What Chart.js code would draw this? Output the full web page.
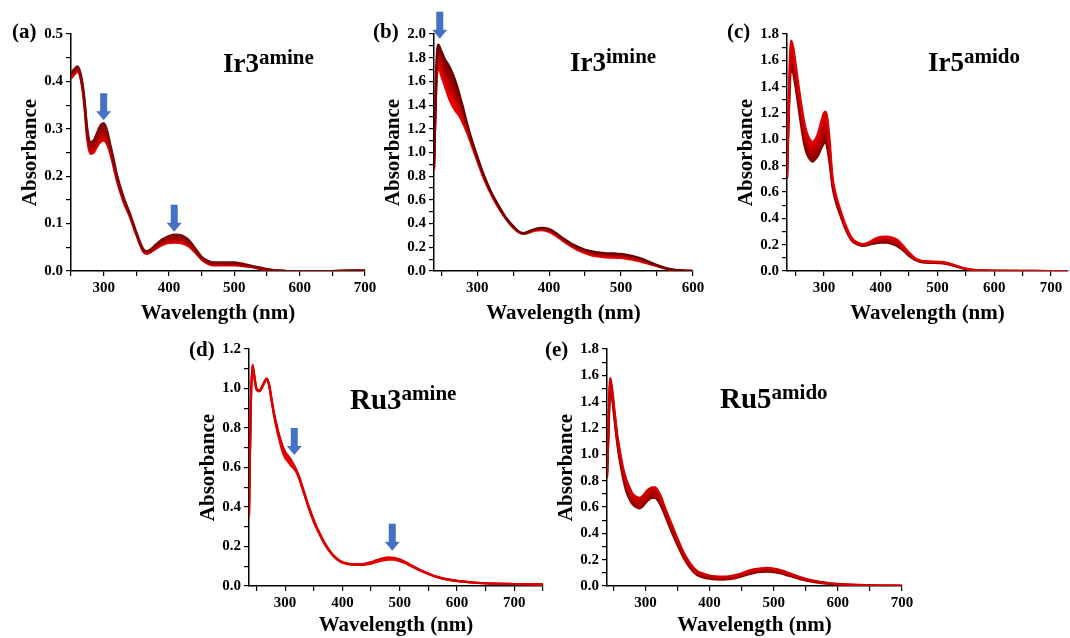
<!DOCTYPE html>
<html><head><meta charset="utf-8">
<script src="https://cdn.jsdelivr.net/npm/chart.js@4.4.1/dist/chart.umd.min.js"></script>
<style>
html,body{margin:0;padding:0;background:#fff;}
body{width:1070px;height:638px;position:relative;overflow:hidden;font-family:'Liberation Serif','Times New Roman',serif;}
canvas{position:absolute;}
.lab{position:absolute;font-weight:bold;color:#000;line-height:1;white-space:nowrap;z-index:5;}
.sup{position:relative;}
</style></head><body>
<div class="lab" style="left:12px;top:21px;font-size:21px">(a)</div>
<div class="lab" style="left:373px;top:21px;font-size:21px">(b)</div>
<div class="lab" style="left:727px;top:21px;font-size:21px">(c)</div>
<div class="lab" style="left:189px;top:339px;font-size:21px">(d)</div>
<div class="lab" style="left:545px;top:339px;font-size:21px">(e)</div>
<div class="lab" style="left:223px;top:50px;font-size:27px">Ir3<span class="sup" style="font-size:21px;top:-8px">amine</span></div>
<div class="lab" style="left:570px;top:49px;font-size:27px">Ir3<span class="sup" style="font-size:21px;top:-8px">imine</span></div>
<div class="lab" style="left:928px;top:49px;font-size:27px">Ir5<span class="sup" style="font-size:21px;top:-8px">amido</span></div>
<div class="lab" style="left:350px;top:385px;font-size:29px">Ru3<span class="sup" style="font-size:21px;top:-9px">amine</span></div>
<div class="lab" style="left:720px;top:384px;font-size:29px">Ru5<span class="sup" style="font-size:21px;top:-9px">amido</span></div>
<script>
// ---------- Panel (a) Ir3amine ----------
const WL_A = [250,255,260,265,270,275,280,285,290,295,300,305,310,315,320,330,340,350,360,365,370,380,390,400,410,420,430,440,450,460,470,480,490,500,510,520,530,540,550,560,570,580,600,650,700];
const ABS_A1 = [0.418,0.426,0.432,0.415,0.372,0.300,0.272,0.276,0.292,0.307,0.312,0.298,0.268,0.238,0.205,0.158,0.122,0.082,0.048,0.042,0.044,0.056,0.067,0.074,0.077,0.075,0.066,0.048,0.030,0.021,0.018,0.018,0.018,0.018,0.016,0.013,0.010,0.007,0.004,0.002,0.001,0.000,0.000,0.000,0.001];
const ABS_A2 = [0.414,0.422,0.428,0.411,0.366,0.292,0.264,0.268,0.283,0.296,0.299,0.288,0.262,0.232,0.201,0.155,0.120,0.080,0.046,0.040,0.042,0.053,0.063,0.069,0.071,0.069,0.061,0.045,0.028,0.019,0.016,0.016,0.016,0.016,0.014,0.012,0.009,0.006,0.003,0.002,0.001,0.000,0.000,0.000,0.001];
const ABS_A3 = [0.410,0.418,0.424,0.407,0.360,0.283,0.256,0.259,0.273,0.284,0.287,0.278,0.255,0.226,0.196,0.151,0.117,0.078,0.044,0.038,0.040,0.050,0.059,0.064,0.066,0.064,0.057,0.042,0.026,0.017,0.014,0.014,0.014,0.014,0.013,0.011,0.008,0.005,0.003,0.001,0.000,0.000,0.000,0.000,0.001];
const ABS_A4 = [0.406,0.414,0.420,0.403,0.354,0.275,0.247,0.250,0.263,0.272,0.275,0.268,0.248,0.220,0.191,0.147,0.114,0.076,0.042,0.036,0.038,0.047,0.055,0.059,0.060,0.058,0.052,0.039,0.024,0.015,0.012,0.012,0.012,0.012,0.011,0.009,0.007,0.004,0.002,0.001,0.000,0.000,0.000,0.000,0.001];
const ARROWS_A = [[300,0.318],[408,0.083]];
const X_LABELS_A = [300,400,500,600,700];
const Y_LABELS_A = ['0.0','0.1','0.2','0.3','0.4','0.5'];

// ---------- Panel (b) Ir3imine ----------
const WL_B = [240,243,246,250,255,260,265,270,275,280,285,290,300,310,320,330,340,350,360,365,370,380,390,400,410,420,430,440,450,460,470,480,490,500,510,520,530,540,550,560,570,580,590,600];
const ABS_B1 = [0.88,1.70,1.91,1.86,1.79,1.74,1.68,1.60,1.50,1.39,1.27,1.16,0.97,0.80,0.66,0.55,0.45,0.38,0.325,0.32,0.33,0.355,0.365,0.355,0.32,0.275,0.235,0.205,0.18,0.165,0.155,0.15,0.148,0.145,0.135,0.12,0.10,0.075,0.05,0.03,0.015,0.007,0.002,0.0];
const ABS_B2 = [0.87,1.63,1.85,1.79,1.71,1.64,1.57,1.51,1.44,1.34,1.24,1.14,0.96,0.79,0.655,0.545,0.447,0.375,0.323,0.318,0.327,0.35,0.358,0.347,0.312,0.267,0.226,0.195,0.17,0.153,0.143,0.138,0.136,0.133,0.124,0.11,0.092,0.069,0.046,0.027,0.013,0.006,0.002,0.0];
const ABS_B3 = [0.86,1.56,1.78,1.72,1.63,1.55,1.48,1.43,1.37,1.29,1.21,1.12,0.945,0.78,0.648,0.537,0.443,0.37,0.321,0.316,0.323,0.345,0.351,0.338,0.303,0.258,0.218,0.185,0.16,0.142,0.132,0.127,0.124,0.121,0.112,0.10,0.084,0.064,0.043,0.024,0.011,0.005,0.001,0.0];
const ABS_B4 = [0.85,1.50,1.72,1.65,1.56,1.47,1.40,1.35,1.31,1.25,1.18,1.10,0.93,0.77,0.64,0.53,0.44,0.365,0.32,0.315,0.32,0.34,0.345,0.33,0.295,0.25,0.21,0.175,0.15,0.13,0.12,0.115,0.112,0.11,0.10,0.09,0.075,0.058,0.04,0.022,0.01,0.004,0.001,0.0];
const ARROWS_B = [[248,1.96]];
const X_LABELS_B = [300,400,500,600];
const Y_LABELS_B = ['0.0','0.2','0.4','0.6','0.8','1.0','1.2','1.4','1.6','1.8','2.0'];

// ---------- Panel (c) Ir5amido ----------
const WL_C = [235,238,242,246,250,255,260,265,270,275,280,285,290,295,300,303,306,310,315,320,330,340,350,360,370,380,390,400,410,420,430,440,450,460,470,480,490,500,510,520,530,540,550,560,570,580,600,650,700,730];
const ABS_C1 = [0.72,1.30,1.75,1.70,1.58,1.42,1.27,1.14,1.05,1.00,0.98,1.00,1.05,1.13,1.20,1.21,1.16,1.00,0.72,0.60,0.45,0.33,0.245,0.215,0.205,0.22,0.245,0.26,0.262,0.255,0.235,0.19,0.14,0.10,0.08,0.075,0.072,0.07,0.068,0.058,0.045,0.03,0.018,0.01,0.006,0.004,0.002,0.001,0.0,0.0];
const ABS_C2 = [0.715,1.25,1.68,1.64,1.52,1.36,1.21,1.08,0.99,0.95,0.93,0.95,0.99,1.06,1.12,1.13,1.09,0.94,0.70,0.58,0.44,0.32,0.24,0.21,0.20,0.213,0.233,0.245,0.247,0.24,0.22,0.178,0.13,0.095,0.076,0.071,0.069,0.067,0.065,0.055,0.043,0.028,0.017,0.009,0.006,0.004,0.002,0.001,0.0,0.0];
const ABS_C3 = [0.705,1.20,1.60,1.57,1.46,1.30,1.15,1.02,0.94,0.90,0.88,0.90,0.93,0.99,1.04,1.05,1.01,0.88,0.67,0.56,0.425,0.31,0.232,0.205,0.195,0.207,0.222,0.23,0.231,0.222,0.202,0.166,0.122,0.09,0.072,0.067,0.065,0.063,0.061,0.052,0.04,0.027,0.016,0.008,0.005,0.003,0.001,0.0,0.0,0.0];
const ABS_C4 = [0.70,1.15,1.53,1.50,1.40,1.25,1.10,0.97,0.89,0.85,0.83,0.85,0.88,0.93,0.97,0.98,0.93,0.82,0.64,0.54,0.41,0.30,0.225,0.20,0.19,0.20,0.21,0.215,0.215,0.205,0.185,0.155,0.115,0.085,0.068,0.063,0.062,0.06,0.058,0.05,0.038,0.025,0.015,0.008,0.005,0.003,0.001,0.0,0.0,0.0];
const X_LABELS_C = [300,400,500,600,700];
const Y_LABELS_C = ['0.0','0.2','0.4','0.6','0.8','1.0','1.2','1.4','1.6','1.8'];

// ---------- Panel (d) Ru3amine ----------
const WL_D = [237,240,243,247,250,255,260,265,268,272,276,280,285,290,295,300,305,310,315,320,325,330,340,350,360,370,380,390,400,410,420,430,440,450,460,470,480,490,500,510,520,530,540,550,560,570,580,600,620,650,700,750];
const ABS_D1 = [0.37,0.91,1.12,1.05,1.00,0.99,1.01,1.04,1.05,1.02,0.955,0.885,0.82,0.76,0.715,0.68,0.66,0.64,0.615,0.585,0.55,0.505,0.415,0.335,0.268,0.213,0.17,0.14,0.122,0.114,0.111,0.111,0.114,0.121,0.131,0.14,0.145,0.143,0.135,0.122,0.105,0.09,0.076,0.063,0.051,0.043,0.036,0.026,0.02,0.014,0.01,0.008];
const ABS_D2 = [0.36,0.90,1.12,1.05,1.00,0.99,1.01,1.04,1.05,1.02,0.95,0.88,0.81,0.75,0.70,0.665,0.645,0.625,0.605,0.58,0.545,0.50,0.41,0.33,0.265,0.21,0.168,0.138,0.12,0.112,0.109,0.109,0.111,0.117,0.127,0.135,0.14,0.138,0.13,0.118,0.102,0.088,0.074,0.062,0.05,0.042,0.035,0.026,0.02,0.014,0.01,0.008];
const ABS_D3 = [0.35,0.89,1.11,1.04,0.995,0.985,1.005,1.035,1.045,1.015,0.945,0.875,0.80,0.74,0.685,0.65,0.63,0.61,0.595,0.575,0.54,0.495,0.405,0.325,0.262,0.207,0.166,0.136,0.118,0.11,0.107,0.107,0.108,0.113,0.122,0.129,0.134,0.133,0.126,0.115,0.10,0.086,0.072,0.061,0.049,0.041,0.034,0.025,0.019,0.013,0.009,0.007];
const ARROWS_D = [[316,0.663],[487,0.179]];
const X_LABELS_D = [300,400,500,600,700];
const Y_LABELS_D = ['0.0','0.2','0.4','0.6','0.8','1.0','1.2'];

// ---------- Panel (e) Ru5amido ----------
const WL_E = [240,242,245,248,252,256,260,265,270,275,280,285,290,295,300,305,310,315,320,325,330,340,350,360,370,380,390,400,410,420,430,440,450,460,470,480,490,500,510,520,530,540,550,560,570,580,600,620,650,700];
const ABS_E1 = [0.85,1.20,1.58,1.50,1.32,1.15,1.03,0.90,0.81,0.75,0.70,0.68,0.67,0.68,0.71,0.735,0.75,0.75,0.72,0.67,0.60,0.48,0.36,0.25,0.17,0.115,0.095,0.08,0.073,0.071,0.074,0.083,0.097,0.115,0.128,0.135,0.137,0.133,0.122,0.105,0.088,0.07,0.055,0.043,0.033,0.026,0.016,0.01,0.005,0.002];
const ABS_E2 = [0.84,1.17,1.55,1.47,1.30,1.13,1.00,0.87,0.78,0.72,0.675,0.655,0.645,0.655,0.685,0.71,0.725,0.725,0.70,0.65,0.58,0.46,0.345,0.237,0.158,0.105,0.085,0.072,0.066,0.064,0.067,0.075,0.089,0.106,0.119,0.126,0.128,0.124,0.114,0.098,0.081,0.065,0.051,0.04,0.03,0.024,0.014,0.009,0.004,0.002];
const ABS_E3 = [0.83,1.13,1.51,1.44,1.27,1.10,0.97,0.845,0.75,0.69,0.645,0.625,0.615,0.625,0.655,0.68,0.695,0.695,0.67,0.625,0.56,0.44,0.325,0.222,0.146,0.095,0.075,0.063,0.058,0.056,0.059,0.067,0.08,0.097,0.109,0.116,0.118,0.115,0.105,0.09,0.074,0.059,0.046,0.036,0.027,0.021,0.012,0.008,0.003,0.001];
const ABS_E4 = [0.82,1.10,1.48,1.42,1.25,1.08,0.95,0.82,0.72,0.66,0.62,0.60,0.59,0.60,0.63,0.655,0.67,0.67,0.645,0.60,0.54,0.42,0.31,0.21,0.135,0.085,0.065,0.055,0.05,0.049,0.052,0.059,0.072,0.088,0.10,0.107,0.109,0.106,0.097,0.083,0.068,0.054,0.042,0.033,0.025,0.019,0.011,0.007,0.003,0.001];
const X_LABELS_E = [300,400,500,600,700];
const Y_LABELS_E = ['0.0','0.2','0.4','0.6','0.8','1.0','1.2','1.4','1.6','1.8'];

const COLORS_A = ['#7a0808','#9a0000','#c00000','#e40000'];
const COLORS_B = ['#6a0000','#a00000','#d00000','#f20000'];
const COLORS_C = ['#e20000','#c40000','#a20000','#7e0000'];
const COLORS_D = ['#d80000','#f00000','#e00000'];
const COLORS_E = ['#d40000','#bc0000','#a40000','#8c0000'];
const FILLS_A = ['#8a0a0a','#ad0000','#d20000'];
const FILLS_B = ['#8a0000','#bc0000','#e40000'];
const FILLS_C = ['#d40000','#b40000','#900000'];
const FILLS_D = ['#e40000','#e80000'];
const FILLS_E = ['#c80000','#b00000','#980000'];

const PANELS = [
  {L:71, T:34, R:365, B:271, xmin:250, xmax:700, ymax:0.5, ystep:0.05, wl:WL_A, series:[ABS_A1,ABS_A2,ABS_A3,ABS_A4], colors:COLORS_A, fills:FILLS_A, arrows:ARROWS_A, xl:X_LABELS_A, yl:Y_LABELS_A, xh:59},
  {L:434, T:34, R:693, B:271, xmin:240, xmax:600, ymax:2.0, ystep:0.1, wl:WL_B, series:[ABS_B1,ABS_B2,ABS_B3,ABS_B4], colors:COLORS_B, fills:FILLS_B, arrows:ARROWS_B, xl:X_LABELS_B, yl:Y_LABELS_B, xh:59},
  {L:787, T:34, R:1068, B:271, xmin:235, xmax:730, ymax:1.8, ystep:0.1, wl:WL_C, series:[ABS_C1,ABS_C2,ABS_C3,ABS_C4], colors:COLORS_C, fills:FILLS_C, arrows:[], xl:X_LABELS_C, yl:Y_LABELS_C, xh:59},
  {L:249, T:349, R:543, B:586, xmin:237, xmax:750, ymax:1.2, ystep:0.1, wl:WL_D, series:[ABS_D1,ABS_D2,ABS_D3], colors:COLORS_D, fills:FILLS_D, arrows:ARROWS_D, xl:X_LABELS_D, yl:Y_LABELS_D, xh:56},
  {L:607, T:349, R:902, B:586, xmin:240, xmax:700, ymax:1.8, ystep:0.1, wl:WL_E, series:[ABS_E1,ABS_E2,ABS_E3,ABS_E4], colors:COLORS_E, fills:FILLS_E, arrows:[], xl:X_LABELS_E, yl:Y_LABELS_E, xh:56}
];

const FONT = "'Liberation Serif','Times New Roman',serif";
const YW = 57, PAD_T = 30, PAD_R = 22;

function arrowPlugin(list) {
  return {
    id: 'arrowMarks',
    afterDatasetsDraw(chart) {
      const ctx = chart.ctx, xs = chart.scales.x, ys = chart.scales.y;
      ctx.save();
      ctx.fillStyle = '#4472c4';
      list.forEach(a => {
        const px = xs.getPixelForValue(a[0]);
        const py = ys.getPixelForValue(a[1]);
        ctx.beginPath();
        ctx.moveTo(px - 3.5, py - 27);
        ctx.lineTo(px + 3.5, py - 27);
        ctx.lineTo(px + 3.5, py - 9);
        ctx.lineTo(px + 7.5, py - 9);
        ctx.lineTo(px, py);
        ctx.lineTo(px - 7.5, py - 9);
        ctx.lineTo(px - 3.5, py - 9);
        ctx.closePath();
        ctx.fill();
      });
      ctx.restore();
    }
  };
}

function build(p, w, h) {
  const cv = document.createElement('canvas');
  cv.width = w; cv.height = h;
  cv.style.width = w + 'px'; cv.style.height = h + 'px';
  cv.style.left = '0px'; cv.style.top = '0px';
  document.body.appendChild(cv);
  const n = p.series.length;
  const datasets = p.series.map((s, i) => ({
    data: p.wl.map((x, j) => ({x: x, y: s[j]})),
    borderColor: p.colors[i],
    backgroundColor: i < n - 1 ? p.fills[i] : 'rgba(0,0,0,0)',
    borderWidth: 2.2,
    pointRadius: 0,
    fill: i < n - 1 ? '+1' : false,
    cubicInterpolationMode: 'monotone'
  }));
  const tickFont = {family: FONT, size: 15, weight: 'bold'};
  const titleFont = {family: FONT, size: 21, weight: 'bold'};
  const chart = new Chart(cv, {
    type: 'line',
    data: {datasets},
    options: {
      responsive: false,
      maintainAspectRatio: false,
      animation: false,
      events: [],
      layout: {padding: {top: PAD_T, right: PAD_R, left: 0, bottom: 0}},
      plugins: {legend: {display: false}, tooltip: {enabled: false}, filler: {propagate: false}},
      scales: {
        x: {
          type: 'linear', min: p.xmin, max: p.xmax,
          ticks: {stepSize: 50, includeBounds: false, autoSkip: false, maxRotation: 0, color: '#000', font: tickFont, padding: 3,
            callback: v => (p.xl.indexOf(Math.round(v)) >= 0 && Math.abs(v - Math.round(v)) < 1e-6) ? String(Math.round(v)) : ''},
          grid: {drawOnChartArea: false, drawTicks: true, tickLength: 5, color: '#000', lineWidth: 1.2},
          border: {display: true, color: '#000', width: 1.5},
          title: {display: true, text: 'Wavelength (nm)', color: '#000', font: titleFont, padding: {top: 4, bottom: 4}},
          afterFit: s => { s.height = p.xh; }
        },
        y: {
          type: 'linear', position: 'left', min: 0, max: p.ymax,
          ticks: {stepSize: p.ystep, autoSkip: false, color: '#000', font: tickFont, padding: 3,
            callback: v => { const s = v.toFixed(1); return (p.yl.indexOf(s) >= 0 && Math.abs(v - parseFloat(s)) < 1e-6) ? s : ''; }},
          grid: {drawOnChartArea: false, drawTicks: true, tickLength: 5, color: '#000', lineWidth: 1.2},
          border: {display: true, color: '#000', width: 1.5},
          title: {display: true, text: 'Absorbance', color: '#000', font: titleFont, padding: {top: 4, bottom: 4}},
          afterFit: s => { s.width = YW; }
        }
      }
    },
    plugins: [arrowPlugin(p.arrows)]
  });
  return {cv, chart};
}

PANELS.forEach(p => {
  let w = YW + (p.R - p.L) + PAD_R;
  let h = PAD_T + (p.B - p.T) + p.xh;
  let r = build(p, w, h);
  let ca = r.chart.chartArea;
  const dw = (p.R - p.L) - (ca.right - ca.left);
  const dh = (p.B - p.T) - (ca.bottom - ca.top);
  if (Math.abs(dw) > 0.01 || Math.abs(dh) > 0.01) {
    r.chart.destroy();
    r.cv.remove();
    r = build(p, Math.round(w + dw), Math.round(h + dh));
    ca = r.chart.chartArea;
  }
  r.cv.style.left = (p.L - ca.left) + 'px';
  r.cv.style.top = (p.T - ca.top) + 'px';
});
</script>
</body></html>
